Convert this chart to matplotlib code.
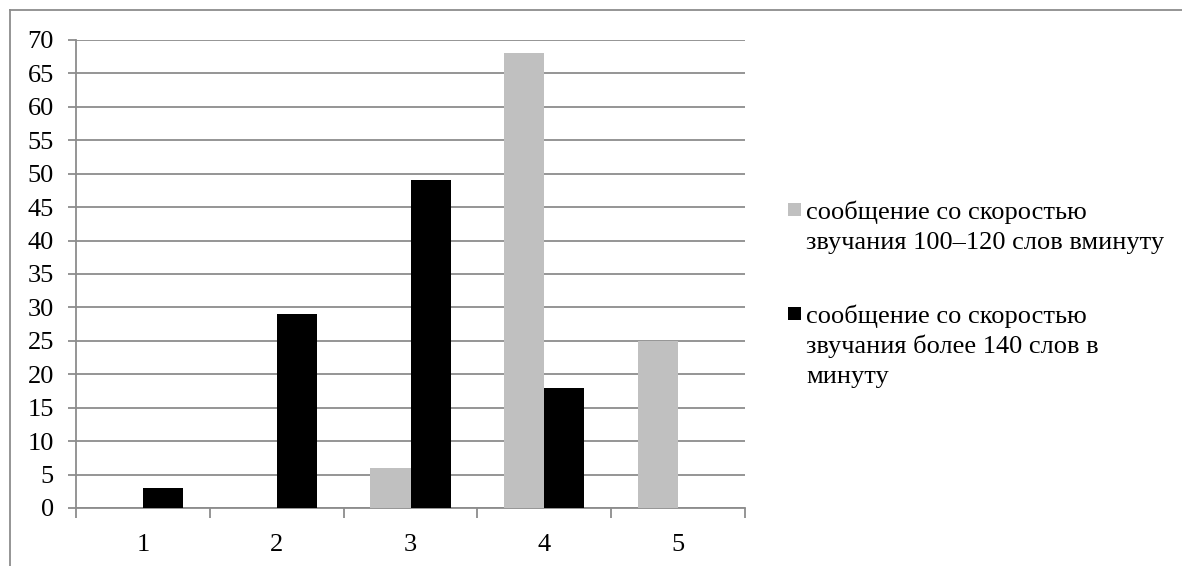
import matplotlib
matplotlib.use("Agg")
import matplotlib.pyplot as plt
from matplotlib.patches import Rectangle
from matplotlib.lines import Line2D
import numpy as np

categories = ["1", "2", "3", "4", "5"]
series_gray = [0, 0, 6, 68, 25]
series_black = [3, 29, 49, 18, 0]
label_gray = "сообщение со скоростью\nзвучания 100–120 слов вминуту"
label_black = "сообщение со скоростью\nзвучания более 140 слов в\nминуту"
yticks = list(range(0, 75, 5))

plt.rcParams['font.family'] = ['Liberation Serif', 'DejaVu Serif']
FS = 19
GRID = '#8c8c8c'

W, H = 1182, 566
fig = plt.figure(figsize=(W/100, H/100), dpi=100)
ax = fig.add_axes([76/W, 1-508/H, (745-76)/W, (508-40)/H])

x = np.arange(len(categories))
bw = 0.3
ax.bar(x - bw/2, series_gray, width=bw, color='#c0c0c0', zorder=3)
ax.bar(x + bw/2, series_black, width=bw, color='#000000', zorder=3)

ax.set_xlim(-0.5, len(categories) - 0.5)
ax.set_ylim(0, 70)
ax.set_yticks(yticks)
ax.set_yticklabels([str(v) for v in yticks], fontsize=FS)
ax.yaxis.grid(True, color=GRID, linewidth=1.3, zorder=0)
ax.tick_params(axis='y', length=6, width=1.3, color=GRID, pad=10)
ax.set_xticks(x)
ax.set_xticklabels(categories, fontsize=FS)
ax.tick_params(axis='x', length=0, pad=19)
ax.set_xticks(np.arange(-0.5, len(categories), 1), minor=True)
ax.tick_params(axis='x', which='minor', length=7, width=1.3, color=GRID)
for s in ['top', 'right']:
    ax.spines[s].set_visible(False)
for s in ['left', 'bottom']:
    ax.spines[s].set_color(GRID)
    ax.spines[s].set_linewidth(1.3)

# legend drawn manually (Excel style: marker aligned with first line)
def px(xp, yp):
    return xp / W, 1 - yp / H

for label, color, sq_top, base0 in [(label_gray, '#c0c0c0', 203, 219),
                                    (label_black, '#000000', 307, 323)]:
    fig.patches.append(Rectangle(px(788, sq_top + 13), 13 / W, 13 / H,
                                 transform=fig.transFigure, facecolor=color,
                                 edgecolor='none'))
    for i, line in enumerate(label.split('\n')):
        fig.text(*px(806, base0 + 30 * i), line, fontsize=FS, va='baseline',
                 ha='left', color='black')

# outer border (left and top)
fig.lines.append(Line2D([10/W, 10/W], [0, 1 - 10/H], transform=fig.transFigure,
                        color=GRID, linewidth=1.3))
fig.lines.append(Line2D([10/W, 1], [1 - 10/H, 1 - 10/H], transform=fig.transFigure,
                        color=GRID, linewidth=1.3))

fig.savefig("out.png", dpi=100)
